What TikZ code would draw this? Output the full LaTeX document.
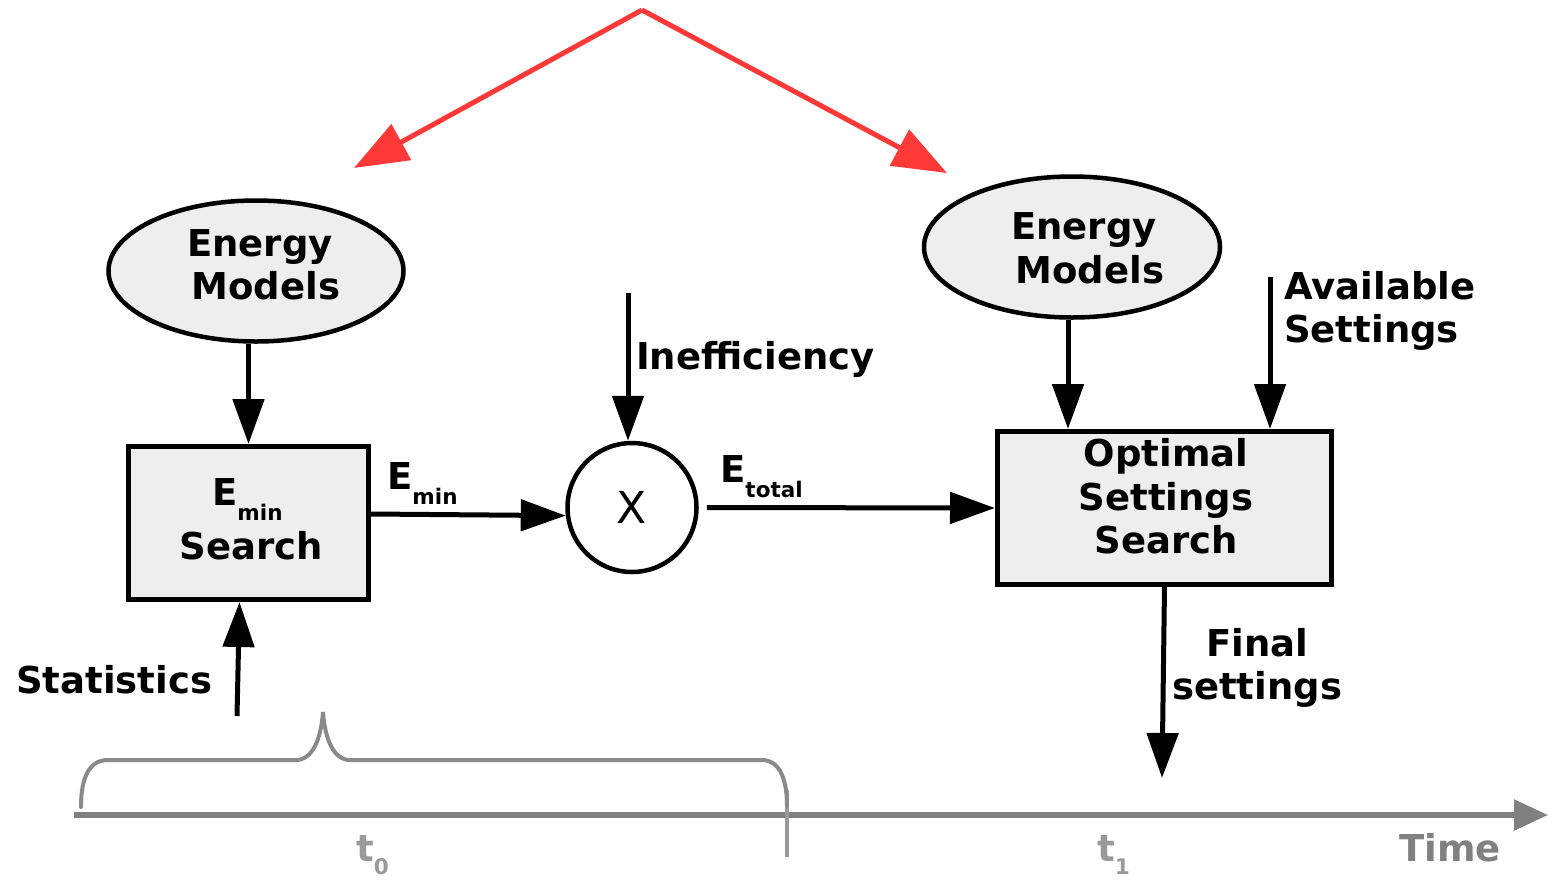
\documentclass[tikz,border=0pt]{standalone}
\usepackage{fontspec}
\setmainfont{DejaVu Sans}
\usetikzlibrary{arrows.meta,shapes.geometric}

\definecolor{boxfill}{HTML}{EEEEEE}
\definecolor{redarrow}{HTML}{FF3838}
\definecolor{axisgray}{HTML}{808080}
\definecolor{bracegray}{HTML}{8A8A8A}
\definecolor{labelgray}{HTML}{9A9A9A}

% lowered index in a smaller size
\newcommand\lowidx[2][15pt]{\raisebox{-#1}{\fontsize{21.5}{21.5}\selectfont #2}}

\begin{document}
\begin{tikzpicture}[x=1pt,y=-1pt,
  txt/.style={font=\fontsize{37}{44}\selectfont\bfseries, inner sep=0pt, anchor=base},
  txtw/.style={txt, anchor=base west},
  block/.style={draw, line width=5pt, fill=boxfill, inner sep=0pt},
  blob/.style={block, ellipse, line width=4.5pt},
  flow/.style={line width=5pt, -{Triangle[length=45pt,width=31pt]}},
  redflow/.style={draw=redarrow, line width=5pt, -{Triangle[length=54pt,width=40pt]}},
  timeaxis/.style={draw=axisgray, line width=5.5pt, -{Triangle[length=34pt,width=30pt]}}]

\useasboundingbox (0,0) rectangle (1548,879);

% shapes
\node[blob, minimum width=295, minimum height=141] (le) at (256,271) {};
\node[blob, minimum width=296, minimum height=141] (re) at (1072,247) {};
\node[block, minimum width=240, minimum height=153] (lb) at (248.5,523) {};
\node[block, minimum width=334, minimum height=153] (rb) at (1164.5,508) {};
\node[draw, circle, line width=4.5pt, minimum size=129, inner sep=0pt,
      font=\fontsize{44}{44}\selectfont] (cx) at (632,507.5) {X};

% texts inside the shapes
\node[txt] (le1) at (260,256) {Energy};
\node[txt] (le2) at (266,299) {Models};
\node[txt] (re1) at (1084,239) {Energy};
\node[txt] (re2) at (1090,283) {Models};
\node[txtw] (lb1) at (212,505) {E\lowidx{min}};
\node[txt] (lb2) at (251,559) {Search};
\node[txt] (rb1) at (1166,466) {Optimal};
\node[txt] (rb2) at (1166,510) {Settings};
\node[txt] (rb3) at (1166,553) {Search};

% labels of the connectors
\node[txtw] (emin) at (387,489) {E\lowidx{min}};
\node[txtw] (etot) at (720,482) {E\lowidx{total}};
\node[txtw] (ineff) at (636,369) {Inefficiency};
\node[txtw] (avail1) at (1284,299) {Available};
\node[txtw] (avail2) at (1284,342) {Settings};
\node[txt] (fin1) at (1257,656) {Final};
\node[txt] (fin2) at (1257,699) {settings};
\node[txtw] (stat) at (16,693) {Statistics};

% free ends of connectors
\coordinate (st) at (237,716);
\coordinate (in) at (628,293);
\coordinate (av) at (1270,277);
\coordinate (fs) at (1162,778);
\coordinate (apex) at (642,10);
\coordinate (ra1) at (354,168);
\coordinate (ra2) at (947,173);

% connectors
\draw[flow] (lb.north |- le.south) -- (lb.north);
\draw[flow] (st) -- ([xshift=-9pt]lb.south);
\draw[flow] (lb.east |- 0,514) -- (cx.187);
\draw[flow] (in) -- (in |- cx.north);
\draw[flow] ([xshift=8pt]cx.east) -- (rb.west);
\draw[flow] ([xshift=-4pt]re.south) -- ([xshift=-4pt]re.south |- rb.north);
\draw[flow] (av) -- (av |- rb.north);
\draw[flow] (rb.south) -- (fs);
\draw[redflow] (apex) -- (ra1);
\draw[redflow] (apex) -- (ra2);

% time line
\coordinate (ax0) at (74,815);
\coordinate (ax1) at (1548,815);
\draw[timeaxis] (ax0) -- (ax1);
\draw[labelgray, line width=4pt] (787,790) -- (787,857);
\draw[bracegray, line width=4pt, line cap=round]
  (81,807) .. controls (81,776) and (90,760) .. (108,760) -- (296,760)
  .. controls (312,760) and (321,740) .. (323,712)
  .. controls (325,740) and (334,760) .. (350,760) -- (762,760)
  .. controls (778,760) and (787,776) .. (787,806);
\node[txtw, text=labelgray] (t0) at (356,861) {t\lowidx[13pt]{0}};
\node[txtw, text=labelgray] (t1) at (1097,861) {t\lowidx[13pt]{1}};
\node[txtw, text=axisgray] (time) at (1399,861) {Time};
\end{tikzpicture}
\end{document}
